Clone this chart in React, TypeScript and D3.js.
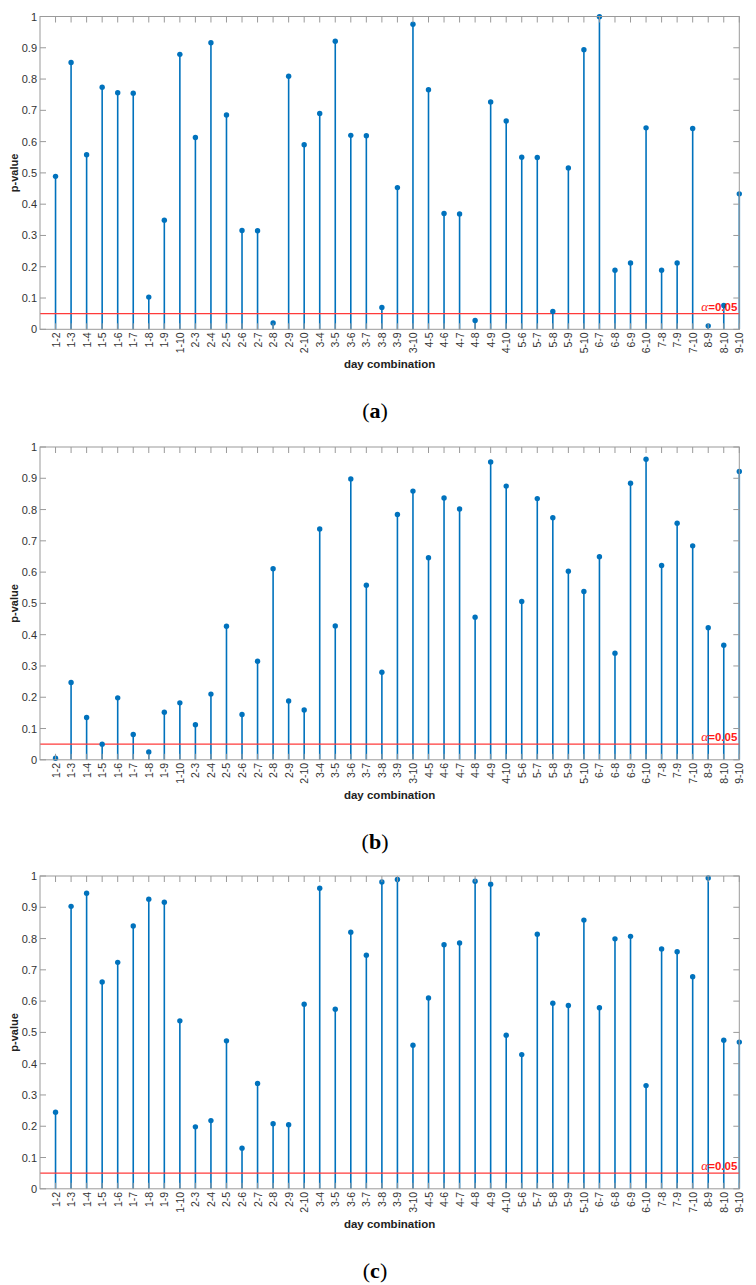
import React from "react";
import * as d3 from "d3";

const categories = [
  "1-2","1-3","1-4","1-5","1-6","1-7","1-8","1-9","1-10",
  "2-3","2-4","2-5","2-6","2-7","2-8","2-9","2-10",
  "3-4","3-5","3-6","3-7","3-8","3-9","3-10",
  "4-5","4-6","4-7","4-8","4-9","4-10",
  "5-6","5-7","5-8","5-9","5-10",
  "6-7","6-8","6-9","6-10",
  "7-8","7-9","7-10",
  "8-9","8-10",
  "9-10",
];

const pValuesA = [
  0.489, 0.853, 0.558, 0.774, 0.756, 0.755, 0.103, 0.349, 0.879,
  0.613, 0.916, 0.685, 0.316, 0.315, 0.020, 0.809, 0.590,
  0.690, 0.921, 0.620, 0.619, 0.070, 0.453, 0.975,
  0.766, 0.370, 0.369, 0.028, 0.727, 0.666,
  0.550, 0.549, 0.057, 0.516, 0.894,
  0.999, 0.189, 0.212, 0.644,
  0.189, 0.212, 0.642,
  0.011, 0.076,
  0.433,
];

const pValuesB = [
  0.005, 0.247, 0.135, 0.050, 0.198, 0.081, 0.025, 0.152, 0.182,
  0.112, 0.210, 0.427, 0.145, 0.315, 0.611, 0.188, 0.159,
  0.738, 0.428, 0.898, 0.558, 0.280, 0.784, 0.859,
  0.646, 0.837, 0.802, 0.456, 0.952, 0.875,
  0.506, 0.835, 0.774, 0.603, 0.538,
  0.649, 0.341, 0.884, 0.961,
  0.621, 0.756, 0.684,
  0.422, 0.366,
  0.922,
];

const pValuesC = [
  0.245, 0.903, 0.945, 0.661, 0.724, 0.840, 0.926, 0.916, 0.537,
  0.198, 0.218, 0.473, 0.130, 0.337, 0.208, 0.205, 0.590,
  0.961, 0.574, 0.820, 0.747, 0.981, 0.989, 0.459,
  0.610, 0.780, 0.786, 0.983, 0.974, 0.491,
  0.429, 0.814, 0.593, 0.586, 0.859,
  0.579, 0.799, 0.807, 0.330,
  0.767, 0.758, 0.678,
  0.994, 0.475,
  0.469,
];

const yTicks = [0, 0.1, 0.2, 0.3, 0.4, 0.5, 0.6, 0.7, 0.8, 0.9, 1];
const yTickLabels = ["0", "0.1", "0.2", "0.3", "0.4", "0.5", "0.6", "0.7", "0.8", "0.9", "1"];
const alpha = 0.05;
const panelLetters = ["a", "b", "c"];
const panelSeries = [pValuesA, pValuesB, pValuesC];

const W = 756;
const H = 1285;
const LEFT = 40;
const RIGHT = 739.3;
const PANEL_TOPS = [16.5, 447, 876];
const PANEL_H = 312.8;
const STEM = "#0072BD";
const AXIS = "#9a9a9a";
const TEXT = "#333333";
const SANS = "'Liberation Sans', Arial, Helvetica, sans-serif";
const SERIF = "'Liberation Serif', 'Times New Roman', serif";

function Panel({ values, top, letter }: { values: number[]; top: number; letter: string }) {
  const x = d3.scaleLinear().domain([0, categories.length]).range([LEFT, RIGHT]);
  const y = d3.scaleLinear().domain([0, 1]).range([top + PANEL_H, top]);
  const bottom = y(0);
  const tickLen = 6;
  return (
    <g>
      {values.map((v, i) => (
        <line key={"s" + i} x1={x(i + 1)} x2={x(i + 1)} y1={y(0)} y2={y(v)} stroke={STEM} strokeWidth={1.6} />
      ))}
      <line x1={x(0)} x2={x(categories.length)} y1={y(alpha)} y2={y(alpha)} stroke="#ff3b3b" strokeWidth={1.2} />
      {values.map((v, i) => (
        <circle key={"m" + i} cx={x(i + 1)} cy={y(v)} r={2.7} fill={STEM} />
      ))}
      <rect x={LEFT} y={top} width={RIGHT - LEFT} height={PANEL_H} fill="none" stroke={AXIS} strokeWidth={1} />
      {categories.map((c, i) => (
        <g key={"xt" + i}>
          <line x1={x(i + 1)} x2={x(i + 1)} y1={top} y2={top + tickLen} stroke={AXIS} strokeWidth={1} />
          <line x1={x(i + 1)} x2={x(i + 1)} y1={bottom} y2={bottom - tickLen} stroke={AXIS} strokeWidth={1} />
          <text
            transform={`translate(${x(i + 1)},${bottom + 3}) rotate(-90)`}
            textAnchor="end"
            dominantBaseline="central"
            fontFamily={SANS}
            fontSize={10.5}
            fill={TEXT}
          >
            {c}
          </text>
        </g>
      ))}
      {yTicks.map((t, i) => (
        <g key={"yt" + i}>
          <line x1={LEFT} x2={LEFT + tickLen} y1={y(t)} y2={y(t)} stroke={AXIS} strokeWidth={1} />
          <line x1={RIGHT} x2={RIGHT - tickLen} y1={y(t)} y2={y(t)} stroke={AXIS} strokeWidth={1} />
          <text x={LEFT - 3} y={y(t)} textAnchor="end" dominantBaseline="central" fontFamily={SANS} fontSize={11} fill={TEXT}>
            {yTickLabels[i]}
          </text>
        </g>
      ))}
      <text x={RIGHT - 2} y={y(alpha) - 3} textAnchor="end" fontFamily={SANS} fontSize={11.5} fontWeight="bold" fill="#ff1a1a">
        <tspan fontFamily={SERIF} fontStyle="italic" fontWeight="normal" fontSize={13}>α</tspan>=0.05
      </text>
      <text
        transform={`translate(14,${(top + bottom) / 2}) rotate(-90)`}
        textAnchor="middle"
        dominantBaseline="central"
        fontFamily={SANS}
        fontSize={11}
        fontWeight="bold"
        fill="#222"
      >
        p-value
      </text>
      <text x={(LEFT + RIGHT) / 2} y={bottom + 39} textAnchor="middle" fontFamily={SANS} fontSize={11.5} fontWeight="bold" fill="#222">
        day combination
      </text>
      <text x={375} y={bottom + 89} textAnchor="middle" fontFamily={SERIF} fontSize={22} fill="#000">
        (<tspan fontWeight="bold">{letter}</tspan>)
      </text>
    </g>
  );
}

export default function App() {
  return (
    <svg width={W} height={H} style={{ position: "absolute", left: 0, top: 0, background: "#fff" }}>
      <rect x={0} y={0} width={W} height={H} fill="#fff" />
      {panelSeries.map((vals, k) => (
        <Panel key={k} values={vals} top={PANEL_TOPS[k]} letter={panelLetters[k]} />
      ))}
    </svg>
  );
}
